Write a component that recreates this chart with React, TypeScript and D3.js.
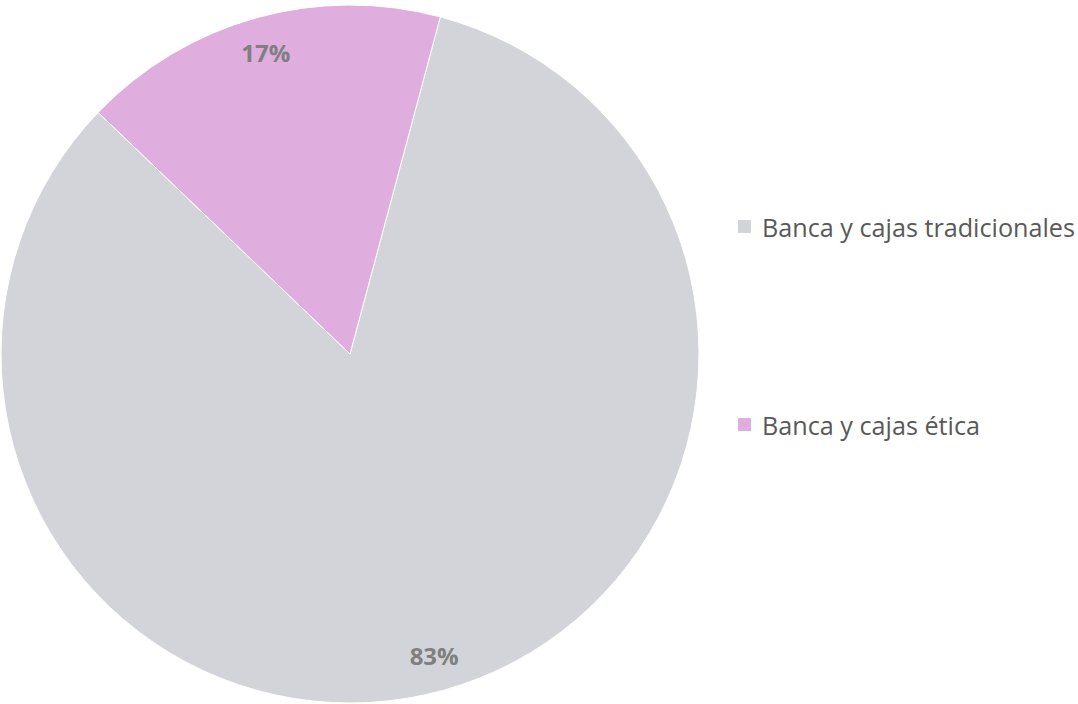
import React from "react";
import * as d3 from "d3";

const categories = ["Banca y cajas tradicionales", "Banca y cajas ética"];
const values = [83, 17];
const colors = ["#d3d4d9", "#dfaedf"];

export default function App() {
  const W = 1078, H = 704;
  const cx = 350, cy = 354, R = 349;
  const start = (15 * Math.PI) / 180;
  const pie = d3.pie<number>().sort(null).startAngle(start).endAngle(start + 2 * Math.PI);
  const arcs = pie(values);
  const arc = d3.arc<d3.PieArcDatum<number>>().innerRadius(0).outerRadius(R);
  const labelArc = d3.arc<d3.PieArcDatum<number>>().innerRadius(313).outerRadius(313);
  const total = d3.sum(values);
  const legendY = [227, 425];
  return (
    <svg width={W} height={H} style={{ position: "absolute", left: 0, top: 0 }}>
      <g transform={`translate(${cx},${cy})`}>
        {arcs.map((a, i) => (
          <path key={i} d={arc(a) || ""} fill={colors[i]} stroke="#fff" strokeWidth={1} />
        ))}
        {arcs.map((a, i) => {
          const [x, y] = labelArc.centroid(a);
          return (
            <text key={i} x={x} y={y} textAnchor="middle" dominantBaseline="central"
              fontFamily="'Open Sans', sans-serif" fontWeight="bold" fontSize={24} fill="#7f7f7f">
              {Math.round((values[i] / total) * 100)}%
            </text>
          );
        })}
      </g>
      {categories.map((c, i) => (
        <g key={i}>
          <rect x={738} y={legendY[i] - 7} width={13} height={13} fill={colors[i]} />
          <text x={762} y={legendY[i]} dominantBaseline="central"
            fontFamily="'Open Sans', sans-serif" fontSize={25.2} fill="#595959">{c}</text>
        </g>
      ))}
    </svg>
  );
}
